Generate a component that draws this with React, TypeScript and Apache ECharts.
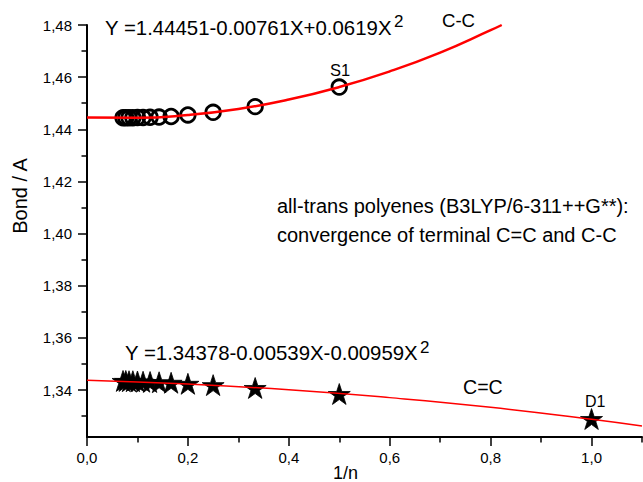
import React, { useEffect, useRef } from "react";
import * as echarts from "echarts";

// 1/n values
const ccX = [0.5, 0.3333, 0.25, 0.2, 0.1667, 0.1429, 0.125, 0.1111, 0.1, 0.0909, 0.0833, 0.0769, 0.0714];
const ccY = [1.4562, 1.4487, 1.4465, 1.4455, 1.4449, 1.4447, 1.4446, 1.4445, 1.4445, 1.4444, 1.4444, 1.4444, 1.4444];

const ddX = [1.0, 0.5, 0.3333, 0.25, 0.2, 0.1667, 0.1429, 0.125, 0.1111, 0.1, 0.0909, 0.0833, 0.0769, 0.0714];
const ddY = [1.3289, 1.3385, 1.3408, 1.3419, 1.3424, 1.3428, 1.343, 1.3431, 1.3432, 1.3433, 1.3434, 1.3434, 1.3435, 1.3435];

// fit curves
const ccFitX = [0, 0.1, 0.2, 0.3, 0.4, 0.5, 0.6, 0.7, 0.8, 0.822];
const ccFitY = [1.4445, 1.4444, 1.4455, 1.4478, 1.4514, 1.4562, 1.4622, 1.4694, 1.478, 1.48];
const ddFitX = [0, 0.2, 0.4, 0.6, 0.8, 1.0, 1.1];
const ddFitY = [1.3438, 1.3423, 1.3401, 1.3371, 1.3334, 1.3288, 1.3262];

const xMajor = [0, 0.2, 0.4, 0.6, 0.8, 1.0];
const xMinor = [0.1, 0.3, 0.5, 0.7, 0.9, 1.1];
const yMajor = [1.34, 1.36, 1.38, 1.4, 1.42, 1.44, 1.46, 1.48];
const yMinor = [1.33, 1.35, 1.37, 1.39, 1.41, 1.43, 1.45, 1.47];

const eqCC = "Y =1.44451-0.00761X+0.0619X";
const eqDD = "Y =1.34378-0.00539X-0.00959X";
const note1 = "all-trans polyenes (B3LYP/6-311++G**):";
const note2 = "convergence of terminal C=C and C-C";

const STAR = "path://M50,0 L61.2,34.5 L97.6,34.5 L68.2,55.9 L79.4,90.5 L50,69.1 L20.6,90.5 L31.8,55.9 L2.4,34.5 L38.8,34.5 Z";

const pairs = (xs: number[], ys: number[]) => xs.map((x, i) => [x, ys[i]]);

const FONT = "Arial";

export default function App() {
  const ref = useRef<HTMLDivElement>(null);
  useEffect(() => {
    if (!ref.current) return;
    const chart = echarts.init(ref.current, undefined, { renderer: "svg" });
    const txt = (x: number, y: number, text: string, size: number, align = "left", extra: any = {}) => ({
      type: "text",
      x,
      y,
      ...extra,
      style: { text, fontSize: size, fontFamily: FONT, fill: "#000", align, verticalAlign: "middle" },
    });
    chart.setOption({
      animation: false,
      backgroundColor: "#fff",
      textStyle: { fontFamily: FONT },
      grid: { left: 87, right: 1, top: 25, bottom: 45, containLabel: false },
      xAxis: [
        {
          type: "value",
          min: 0,
          max: 1.1,
          position: "bottom",
          axisLine: { show: true, onZero: false, lineStyle: { color: "#000", width: 2 } },
          axisTick: { show: true, customValues: xMajor, length: 9, lineStyle: { color: "#000", width: 1.5 } },
          axisLabel: {
            show: true,
            customValues: xMajor,
            margin: 13,
            color: "#000",
            fontSize: 15,
            fontFamily: FONT,
            formatter: (v: number) => v.toFixed(1).replace(".", ","),
          },
          splitLine: { show: false },
        },
        {
          type: "value",
          min: 0,
          max: 1.1,
          position: "bottom",
          axisLine: { show: false, onZero: false },
          axisTick: { show: true, customValues: xMinor, length: 5.5, lineStyle: { color: "#000", width: 1.5 } },
          axisLabel: { show: false },
          splitLine: { show: false },
        },
      ],
      yAxis: [
        {
          type: "value",
          min: 1.322,
          max: 1.48,
          position: "left",
          axisLine: { show: true, onZero: false, lineStyle: { color: "#000", width: 2 } },
          axisTick: { show: true, customValues: yMajor, length: 9, lineStyle: { color: "#000", width: 1.5 } },
          axisLabel: {
            show: true,
            customValues: yMajor,
            margin: 15,
            color: "#000",
            fontSize: 15,
            fontFamily: FONT,
            formatter: (v: number) => v.toFixed(2).replace(".", ","),
          },
          splitLine: { show: false },
        },
        {
          type: "value",
          min: 1.322,
          max: 1.48,
          position: "left",
          axisLine: { show: false, onZero: false },
          axisTick: { show: true, customValues: yMinor, length: 5.5, lineStyle: { color: "#000", width: 1.5 } },
          axisLabel: { show: false },
          splitLine: { show: false },
        },
      ],
      series: [
        {
          type: "line",
          data: pairs(ccFitX, ccFitY),
          smooth: true,
          showSymbol: false,
          lineStyle: { color: "#ff0000", width: 2.5 },
        },
        {
          type: "line",
          data: pairs(ddFitX, ddFitY),
          smooth: true,
          showSymbol: false,
          lineStyle: { color: "#ff0000", width: 1.5 },
        },
        {
          type: "scatter",
          data: pairs(ccX, ccY),
          symbol: "circle",
          symbolSize: 14.5,
          itemStyle: { color: "transparent", borderColor: "#000", borderWidth: 2.8, opacity: 1 },
        },
        {
          type: "scatter",
          data: pairs(ddX, ddY),
          symbol: STAR,
          symbolKeepAspect: true,
          symbolSize: 22,
          itemStyle: { color: "#000", borderColor: "#000", borderWidth: 0.8, opacity: 1 },
        },
      ],
      graphic: [
        txt(20, 196, "Bond / A", 20, "center", { rotation: Math.PI / 2 }),
        txt(345.5, 473, "1/n", 18, "center"),
        txt(105, 28, eqCC, 20.4),
        txt(394, 21.5, "2", 17),
        txt(125, 353, eqDD, 20.4),
        txt(420, 347.5, "2", 17),
        txt(442, 20, "C-C", 18.6),
        txt(330, 69.5, "S1", 16.5),
        txt(277, 206, note1, 20),
        txt(277, 234.5, note2, 20),
        txt(463, 386.5, "C=C", 19.6),
        txt(585, 401, "D1", 16),
      ],
    });
    return () => chart.dispose();
  }, []);
  return <div ref={ref} style={{ position: "absolute", left: 0, top: 0, width: 643, height: 482, background: "#fff" }} />;
}
